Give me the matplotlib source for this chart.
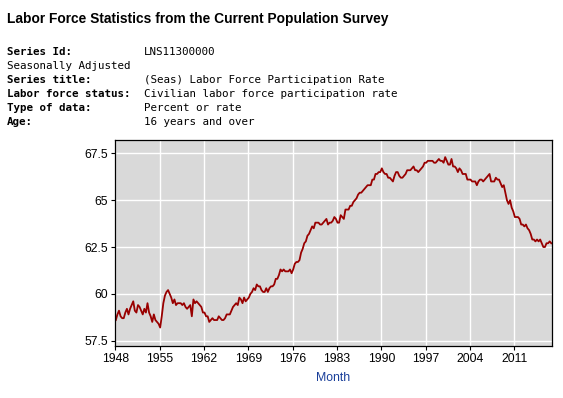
"""Labor force participation rate (LNS11300000), BLS style chart."""

import matplotlib

matplotlib.use("Agg")
import matplotlib.pyplot as plt
import numpy as np

# quarterly readings, 1948 Q1 .. 2016 Q4
start_year = 1948
rate = [
    58.6, 58.9, 59.1, 58.8,  # 1948
    58.7, 58.7, 59.0, 59.2,
    58.9, 59.2, 59.4, 59.6,  # 1950
    59.1, 59.0, 59.4, 59.3,
    59.1, 58.9, 59.2, 59.0,
    59.5, 59.0, 58.8, 58.5,
    58.9, 58.6, 58.5, 58.4,
    58.2, 58.8, 59.5, 59.9,  # 1955
    60.1, 60.2, 60.0, 59.8,
    59.5, 59.7, 59.4, 59.5,
    59.5, 59.5, 59.4, 59.5,
    59.3, 59.2, 59.3, 59.4,
    58.8, 59.7, 59.5, 59.6,  # 1960
    59.5, 59.4, 59.3, 59.0,
    59.0, 58.8, 58.8, 58.5,
    58.6, 58.7, 58.6, 58.6,
    58.6, 58.8, 58.7, 58.6,
    58.6, 58.7, 58.9, 58.9,  # 1965
    58.9, 59.1, 59.3, 59.4,
    59.5, 59.4, 59.8, 59.7,
    59.5, 59.8, 59.6, 59.7,
    59.8, 60.0, 60.1, 60.3,
    60.2, 60.5, 60.4, 60.4,  # 1970
    60.2, 60.1, 60.1, 60.3,
    60.1, 60.3, 60.4, 60.4,
    60.5, 60.8, 60.8, 61.0,
    61.3, 61.2, 61.3, 61.2,
    61.2, 61.2, 61.3, 61.1,  # 1975
    61.3, 61.6, 61.7, 61.7,
    61.8, 62.2, 62.4, 62.7,
    62.8, 63.1, 63.2, 63.4,
    63.6, 63.5, 63.8, 63.8,
    63.8, 63.7, 63.7, 63.8,  # 1980
    63.9, 64.0, 63.7, 63.8,
    63.8, 63.9, 64.1, 64.0,
    63.8, 63.8, 64.2, 64.1,
    64.0, 64.5, 64.5, 64.5,
    64.7, 64.7, 64.9, 65.0,  # 1985
    65.1, 65.3, 65.4, 65.4,
    65.5, 65.6, 65.7, 65.8,
    65.8, 65.8, 66.1, 66.1,
    66.4, 66.4, 66.5, 66.5,
    66.7, 66.5, 66.4, 66.4,  # 1990
    66.2, 66.2, 66.1, 66.0,
    66.3, 66.5, 66.5, 66.3,
    66.2, 66.2, 66.3, 66.4,
    66.6, 66.6, 66.6, 66.7,
    66.8, 66.6, 66.6, 66.5,  # 1995
    66.6, 66.7, 66.8, 67.0,
    67.0, 67.1, 67.1, 67.1,
    67.1, 67.0, 67.0, 67.1,
    67.2, 67.1, 67.1, 67.0,
    67.3, 67.1, 66.9, 66.9,  # 2000
    67.2, 66.8, 66.8, 66.7,
    66.5, 66.7, 66.6, 66.4,
    66.4, 66.4, 66.1, 66.1,
    66.1, 66.0, 66.0, 66.0,
    65.8, 66.0, 66.1, 66.1,  # 2005
    66.0, 66.1, 66.2, 66.3,
    66.4, 66.0, 66.0, 66.0,
    66.2, 66.1, 66.1, 65.9,
    65.7, 65.8, 65.4, 65.0,
    64.8, 65.0, 64.6, 64.4,  # 2010
    64.1, 64.1, 64.1, 64.0,
    63.7, 63.7, 63.6, 63.7,
    63.5, 63.4, 63.2, 62.9,
    62.9, 62.8, 62.9, 62.8,
    62.9, 62.7, 62.5, 62.5,  # 2015
    62.7, 62.7, 62.8, 62.7,
]

x_ticks = [1948, 1955, 1962, 1969, 1976, 1983, 1990, 1997, 2004, 2011]
y_ticks = [57.5, 60, 62.5, 65, 67.5]
y_tick_labels = ["57.5", "60", "62.5", "65", "67.5"]

title = "Labor Force Statistics from the Current Population Survey"
meta_labels = ["Series Id:", "Seasonally Adjusted", "Series title:",
               "Labor force status:", "Type of data:", "Age:"]
meta_values = ["LNS11300000", "", "(Seas) Labor Force Participation Rate",
               "Civilian labor force participation rate", "Percent or rate",
               "16 years and over"]

fig = plt.figure(figsize=(5.63, 3.98), dpi=100)
W, H = 563, 398

fig.text(7 / W, 1 - 18.5 / H, title, family="Liberation Sans", weight="bold",
         fontsize=9.9, va="center", ha="left")
for i, (lab, val) in enumerate(zip(meta_labels, meta_values)):
    y = 1 - (52.3 + 14 * i) / H
    fig.text(7 / W, y, lab, family="DejaVu Sans Mono",
             weight="normal" if lab == "Seasonally Adjusted" else "bold",
             fontsize=7.85, va="center", ha="left")
    if val:
        fig.text(144.3 / W, y, val, family="DejaVu Sans Mono", fontsize=7.85,
                 va="center", ha="left")

ax = fig.add_axes([115.3 / W, 1 - 345.7 / H, 436.4 / W, 206 / H])
ax.set_facecolor("#d9d9d9")
x = start_year + (np.arange(len(rate)) * 3 + 1.0) / 12.0
ax.plot(x, rate, color="#990000", lw=1.3)

ax.set_xlim(1948.0, 2016.9)
ax.set_ylim(57.23, 68.23)
ax.set_xticks(x_ticks)
ax.set_xticklabels([str(t) for t in x_ticks])
ax.set_yticks(y_ticks)
ax.set_yticklabels(y_tick_labels)
ax.grid(True, color="white", lw=1.0)
ax.set_axisbelow(True)
ax.tick_params(length=3, width=0.8, labelsize=8.8, pad=2)
for lbl in ax.get_xticklabels() + ax.get_yticklabels():
    lbl.set_family("Liberation Sans")
for s in ax.spines.values():
    s.set_linewidth(0.9)
ax.set_xlabel("Month", color="#1a3f9a", family="Liberation Sans",
              fontsize=8.8, labelpad=5)

fig.savefig("out.png", dpi=100)
